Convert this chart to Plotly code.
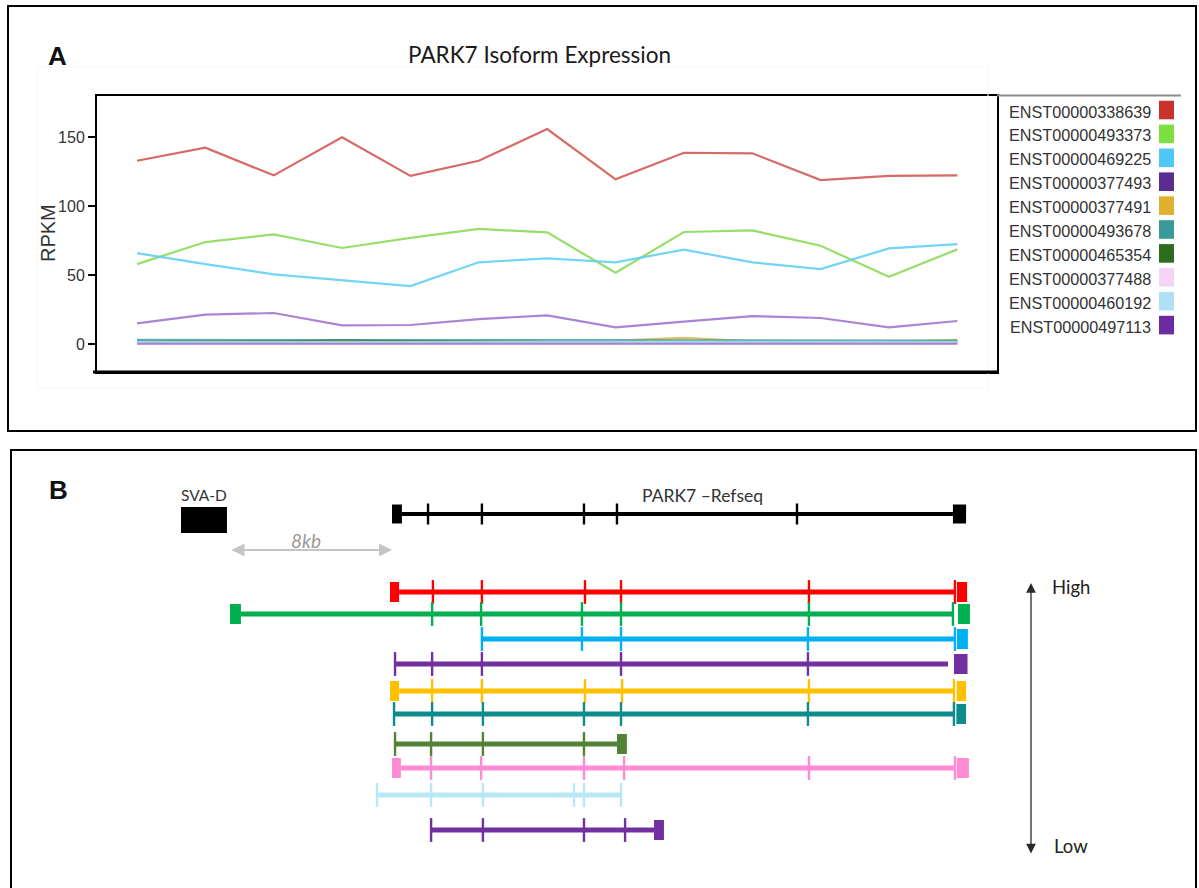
import plotly.graph_objects as go

W, H = 1199, 888

# ---------------- Panel A: isoform expression per sample ----------------
sample_no = list(range(1, 14))

isoform_ids = [
    "ENST00000338639", "ENST00000493373", "ENST00000469225", "ENST00000377493",
    "ENST00000377491", "ENST00000493678", "ENST00000465354", "ENST00000377488",
    "ENST00000460192", "ENST00000497113",
]

rpkm_338639 = [133, 142.5, 122.4, 150, 122, 133, 156, 119.5, 138.8, 138.4, 119, 122, 122.4]
rpkm_493373 = [58, 74, 79.6, 69.7, 77, 83.5, 81, 51.7, 81.3, 82.5, 71.3, 48.8, 68.7]
rpkm_469225 = [66, 58, 50.6, 46.5, 42, 59.3, 62.2, 59.3, 68.5, 59.3, 54.4, 69.4, 72.5]
rpkm_377493 = [15, 21.3, 22.5, 13.5, 13.8, 18.1, 20.8, 12.1, 16.2, 20.3, 18.9, 12.1, 16.7]
rpkm_377491 = [1.0, 1.2, 1.5, 1.5, 1.2, 1.5, 2.5, 2.5, 4.5, 2.0, 1.5, 1.5, 3.0]
rpkm_493678 = [3.0, 3.0, 3.0, 2.5, 2.5, 2.5, 3.0, 2.5, 2.5, 2.5, 2.5, 2.5, 2.5]
rpkm_465354 = [1.5, 1.5, 2.0, 2.5, 2.0, 1.5, 1.5, 1.0, 1.0, 1.0, 1.0, 1.5, 1.5]
rpkm_377488 = [0.5, 0.5, 0.5, 0.6, 0.5, 0.5, 0.5, 0.5, 0.5, 0.6, 0.5, 0.5, 0.5]
rpkm_460192 = [1.5, 1.5, 1.5, 1.2, 1.2, 1.5, 1.5, 1.2, 1.5, 1.5, 1.2, 1.2, 1.5]
rpkm_497113 = [0.2, 0.2, 0.2, 0.3, 0.3, 0.2, 0.2, 0.2, 0.2, 0.2, 0.3, 0.2, 0.2]

rpkm_series = [rpkm_338639, rpkm_493373, rpkm_469225, rpkm_377493, rpkm_377491,
               rpkm_493678, rpkm_465354, rpkm_377488, rpkm_460192, rpkm_497113]

rpkm_ticks = [0, 50, 100, 150]

swatch_colors = ["#c8322b", "#7ee040", "#50c8f5", "#5c2d91", "#e0b030",
                 "#3a9a9a", "#2d6e1e", "#f5d5f5", "#b0e0f5", "#6a2ca0"]
line_colors = ["#d25a55", "#8cdc5a", "#64d0f2", "#a078d0", "#e0b84a",
               "#4aa8a8", "#2d6e1e", "#f0c8f0", "#a8dcf0", "#a078d0"]

# ---------------- Panel B: transcript structures (kb from PARK7 start) ----------------
sva_span = (-10.42, -8.15)
sva_gap_kb = 8

refseq_span = (0.49, 27.70)
refseq_marks = [1.78, 4.44, 9.48, 11.11, 20.0]
refseq_exons = [(0.0, 0.49), (27.70, 28.35)]

tx_start = [0.35, -7.46, 4.44, 0.15, 0.35, 0.10, 0.15, 0.44, -0.74, 1.93]
tx_end = [27.80, 27.70, 27.85, 27.46, 27.80, 27.75, 11.11, 27.80, 11.31, 12.94]
tx_marks = [
    [2.02, 4.44, 9.53, 11.31, 20.59, 27.80],
    [1.98, 4.40, 9.38, 11.31, 20.59, 27.70],
    [4.44, 9.38, 11.31, 20.54, 27.80],
    [0.15, 1.98, 4.44, 11.31, 20.54],
    [1.98, 4.44, 9.53, 11.36, 20.59, 27.75],
    [0.10, 1.98, 4.49, 9.48, 11.31, 20.54, 27.75],
    [0.15, 1.93, 4.49, 9.48],
    [1.93, 4.40, 9.48, 11.46, 20.59, 27.80],
    [-0.74, 1.93, 4.49, 8.99, 9.48, 11.31],
    [1.93, 4.49, 9.48, 11.51],
]
tx_first_exon = [(-0.10, 0.35), (-8.0, -7.46), None, None, (-0.10, 0.35),
                 None, None, (0.0, 0.44), None, None]
tx_last_exon = [(27.90, 28.40), (27.95, 28.54), (27.90, 28.44), (27.75, 28.42),
                (27.89, 28.35), (27.87, 28.35), (11.11, 11.60), (27.89, 28.49),
                None, (12.94, 13.43)]
tx_colors = ["#ff0000", "#00b050", "#00b0f0", "#7030a0", "#ffc000",
             "#0e8c8c", "#548235", "#ff8cd2", "#b8e8f8", "#7030a0"]


# layout helpers (pixel -> paper)
def px(x):
    return x / W


def py(y):
    return 1 - y / H


# panel B uses a pixel-aligned vertical axis; rows listed top to bottom
refseq_row = 514
tx_rows = [592, 614, 639, 664, 691, 714, 744, 768, 795, 830]
kb_px = 20.25       # horizontal scale of panel B
kb_origin_px = 392  # PARK7 start


def kb_at(x_pixel):
    return (x_pixel - kb_origin_px) / kb_px


fig = go.Figure()

# ---- panel A traces ----
for vals, col in zip(rpkm_series, line_colors):
    fig.add_trace(go.Scatter(
        x=sample_no, y=vals, mode="lines",
        line=dict(color=col, width=2.2), opacity=0.9,
        xaxis="x", yaxis="y", hoverinfo="skip",
    ))

# ---- panel B traces ----
shapes = []


def add_structure(row, span, marks, exons, color, lw, mark_size, box_h):
    fig.add_trace(go.Scatter(
        x=list(span), y=[row, row], mode="lines",
        line=dict(color=color, width=lw),
        xaxis="x2", yaxis="y2", hoverinfo="skip",
    ))
    fig.add_trace(go.Scatter(
        x=marks, y=[row] * len(marks), mode="markers",
        marker=dict(symbol="line-ns", size=mark_size,
                    line=dict(color=color, width=2.4)),
        xaxis="x2", yaxis="y2", hoverinfo="skip",
    ))
    for ex in exons:
        if ex is None:
            continue
        shapes.append(dict(
            type="rect", xref="x2", yref="y2",
            x0=ex[0], x1=ex[1], y0=row - box_h / 2, y1=row + box_h / 2,
            fillcolor=color, line=dict(width=0), layer="above",
        ))


add_structure(refseq_row, refseq_span, refseq_marks, refseq_exons,
              "#000000", 4, 15, 19)
for i in range(len(tx_start)):
    add_structure(tx_rows[i], (tx_start[i], tx_end[i]), tx_marks[i],
                  [tx_first_exon[i], tx_last_exon[i]], tx_colors[i], 4.8, 17, 20)

# SVA-D element
shapes.append(dict(type="rect", xref="x2", yref="y2",
                   x0=sva_span[0], x1=sva_span[1], y0=507, y1=533,
                   fillcolor="#000000", line=dict(width=0)))

# ---- frames ----
shapes += [
    # panel outlines
    dict(type="rect", xref="paper", yref="paper", x0=px(8), x1=px(1196),
         y0=py(431), y1=py(6), line=dict(color="#000", width=2)),
    dict(type="rect", xref="paper", yref="paper", x0=px(11), x1=px(1196),
         y0=py(900), y1=py(450), line=dict(color="#000", width=2)),
    # faint image margin around the chart
    dict(type="rect", xref="paper", yref="paper", x0=px(38), x1=px(988),
         y0=py(388), y1=py(67), line=dict(color="#f6f6f6", width=1)),
    # legend top rule
    dict(type="line", xref="paper", yref="paper", x0=px(997), x1=px(1181),
         y0=py(95.5), y1=py(95.5), line=dict(color="#8c8c8c", width=2)),
    # heavier baseline
    dict(type="line", xref="paper", yref="paper", x0=px(93), x1=px(997),
         y0=py(372), y1=py(372), line=dict(color="#000", width=3)),
]

# legend (text with swatch on its right)
sans = "Liberation Sans, Arial, sans-serif"
annotations = []
for i, (name, col) in enumerate(zip(isoform_ids, swatch_colors)):
    yc = 110 + 23.9 * i
    annotations.append(dict(
        xref="paper", yref="paper", x=px(1153), y=py(yc + 1.5),
        text=name, showarrow=False, xanchor="right", yanchor="middle",
        font=dict(family=sans, size=16.2, color="#333333"),
    ))
    shapes.append(dict(type="rect", xref="paper", yref="paper",
                       x0=px(1159), x1=px(1174), y0=py(yc + 9.3), y1=py(yc - 9.3),
                       fillcolor=col, line=dict(width=0)))


def label(x, y, text, size, color="#333", family="Lato, Open Sans, sans-serif",
          xanchor="center", **kw):
    return dict(xref="paper", yref="paper", x=px(x), y=py(y), text=text,
                showarrow=False, xanchor=xanchor, yanchor="middle",
                font=dict(family=family, size=size, color=color), **kw)


annotations += [
    label(57, 56, "<b>A</b>", 26, "#111", sans),
    label(539, 55, "PARK7 Isoform Expression", 22.5, "#1a1a1a"),
    label(48, 233, "RPKM", 20, "#333", sans, textangle=-90),
    label(58, 490, "<b>B</b>", 26, "#111", sans),
    label(204, 495, "SVA-D", 15.5, "#333"),
    label(702, 495, "PARK7 \u2013Refseq", 17.5, "#333"),
    label(306, 540, "<i>8kb</i>", 19, "#9a9a9a"),
    label(1050, 587, "High", 18.5, "#222", xanchor="left"),
    label(1052, 846, "Low", 18.5, "#222", xanchor="left"),
    # 8 kb distance between SVA-D and PARK7 start
    dict(xref="x2", yref="y2", axref="x2", ayref="y2",
         x=0, y=550, ax=-sva_gap_kb, ay=550, text="", showarrow=True,
         arrowhead=2, arrowside="end+start", arrowsize=1.3, arrowwidth=2,
         arrowcolor="#c4c4c4"),
    # expression rank arrow
    dict(xref="x2", yref="y2", axref="x2", ayref="y2",
         x=kb_at(1031), y=583, ax=kb_at(1031), ay=855, text="", showarrow=True,
         arrowhead=2, arrowside="end+start", arrowsize=1.5, arrowwidth=1.3,
         arrowcolor="#2a2a2a"),
]

fig.update_layout(
    width=W, height=H, autosize=False,
    margin=dict(l=0, r=0, t=0, b=0),
    paper_bgcolor="white", plot_bgcolor="rgba(0,0,0,0)",
    showlegend=False,
    shapes=shapes, annotations=annotations,
    xaxis=dict(domain=[px(97), px(997)], range=[0.415, 13.58],
               showline=True, mirror=True, linecolor="#000", linewidth=2,
               showticklabels=False, ticks="", showgrid=False, zeroline=False,
               fixedrange=True),
    yaxis=dict(domain=[py(372), py(96)], range=[-20.3, 180],
               showline=True, mirror=True, linecolor="#000", linewidth=2,
               tickvals=rpkm_ticks, ticks="outside", ticklen=7, tickwidth=2,
               tickcolor="#000", showgrid=False, zeroline=False,
               tickfont=dict(family=sans, size=16, color="#333"),
               fixedrange=True),
    xaxis2=dict(domain=[0, 1], anchor="y2",
                range=[kb_at(0), kb_at(W)],
                visible=False, fixedrange=True),
    yaxis2=dict(domain=[0, 1], anchor="x2", range=[H, 0], visible=False,
                fixedrange=True),
)

fig.write_html("out.html", config={"displayModeBar": False})
